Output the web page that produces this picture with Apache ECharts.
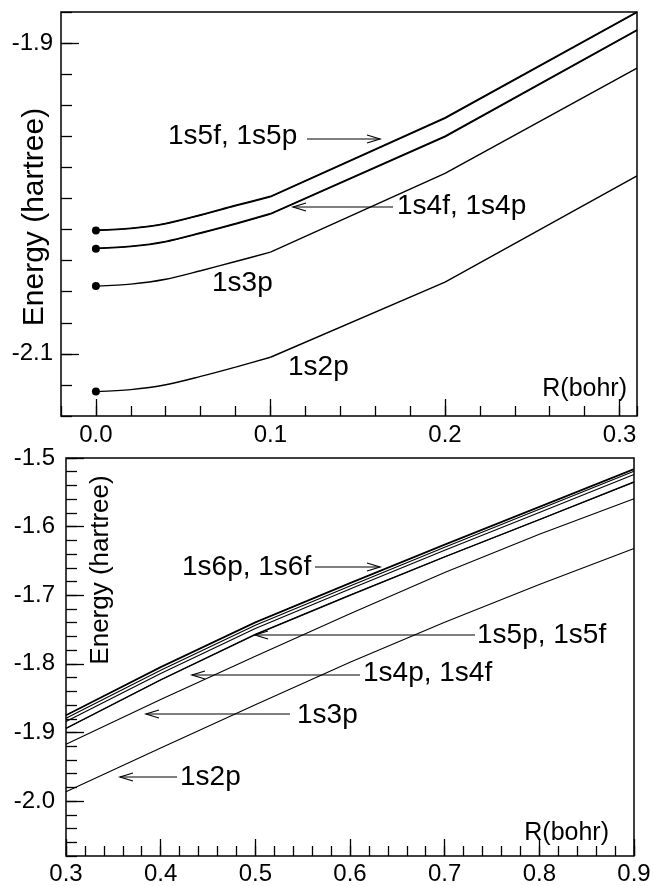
<!DOCTYPE html>
<html>
<head>
<meta charset="utf-8">
<script src="https://cdn.jsdelivr.net/npm/echarts@6/dist/echarts.min.js"></script>
<style>
  html, body { margin: 0; padding: 0; background: #fff; }
  #chart { width: 654px; height: 886px; }
</style>
</head>
<body>
<div id="chart"></div>
<script>
// ---- Upper panel: R from 0 to ~0.3 bohr (energies in hartree) ----
const rUpper = [0, 0.02, 0.04, 0.06, 0.08, 0.1, 0.2, 0.31];
const upper1s5p = [-2.0206, -2.0194, -2.0163, -2.0108, -2.0048, -1.9990, -1.9484, -1.8803];
const upper1s5f = [-2.0203, -2.0191, -2.0160, -2.0105, -2.0044, -1.9986, -1.9480, -1.8799];
const upper1s4p = [-2.0323, -2.0310, -2.0279, -2.0224, -2.0165, -2.0101, -1.9603, -1.8919];
const upper1s4f = [-2.0320, -2.0307, -2.0276, -2.0221, -2.0161, -2.0097, -1.9599, -1.8915];
const upper1s3p = [-2.0564, -2.0551, -2.0520, -2.0465, -2.0406, -2.0345, -1.9839, -1.9161];
const upper1s2p = [-2.1243, -2.1230, -2.1199, -2.1145, -2.1085, -2.1022, -2.0538, -1.9854];
// index of R = 0.1, where the curved inner part joins the straight outer part
const upperJoin = 5;

// ---- Lower panel: R from 0.3 to 0.9 bohr ----
const rLower = [0.3, 0.4, 0.5, 0.6, 0.7, 0.8, 0.9];
const lower1s6p = [-1.8745, -1.8045, -1.7390, -1.6820, -1.6260, -1.5710, -1.5159];
const lower1s6f = [-1.8752, -1.8052, -1.7398, -1.6828, -1.6268, -1.5718, -1.5166];
const lower1s5p = [-1.8793, -1.8092, -1.7436, -1.6864, -1.6301, -1.5748, -1.5194];
const lower1s5f = [-1.8841, -1.8139, -1.7483, -1.6910, -1.6346, -1.5794, -1.5242];
const lower1s4p = [-1.8938, -1.8230, -1.7570, -1.6998, -1.6440, -1.5895, -1.5348];
const lower1s4f = [-1.8942, -1.8234, -1.7574, -1.7002, -1.6444, -1.5899, -1.5352];
const lower1s3p = [-1.9170, -1.8520, -1.7890, -1.7270, -1.6670, -1.6110, -1.5594];
const lower1s2p = [-1.9865, -1.9225, -1.8595, -1.7975, -1.7395, -1.6845, -1.6319];

// ---- Tick labels ----
const upperXTicks = [0, 0.1, 0.2, 0.3];
const upperYTicks = [-2.1, -1.9];
const lowerXTicks = [0.3, 0.4, 0.5, 0.6, 0.7, 0.8, 0.9];
const lowerYTicks = [-2.0, -1.9, -1.8, -1.7, -1.6, -1.5];

const FONT = 'Liberation Sans';
const INK = '#000';

function pairs(xs, ys) { return xs.map((x, i) => [x, ys[i]]); }

function line(name, data, axisIdx, opts) {
  return Object.assign({
    name: name,
    type: 'line',
    xAxisIndex: axisIdx,
    yAxisIndex: axisIdx,
    data: data,
    smooth: false,
    showSymbol: false,
    symbol: 'none',
    itemStyle: { color: INK },
    lineStyle: { color: INK, width: 1.4 },
    silent: true,
    z: 3
  }, opts || {});
}

// upper curves: smooth inner part (R <= 0.1) with a dot at R = 0, straight beyond
function upperCurve(name, ys, withDot, width) {
  const all = pairs(rUpper, ys);
  const inner = line(name, all.slice(0, upperJoin + 1), 0, {
    smooth: 0.3,
    lineStyle: { color: INK, width: width }
  });
  if (withDot) {
    inner.showSymbol = true;
    inner.showAllSymbol = true;
    inner.symbol = 'circle';
    inner.symbolSize = (v, p) => (p.dataIndex === 0 ? 8 : 0);
  }
  const outer = line(name, all.slice(upperJoin), 0, { lineStyle: { color: INK, width: width } });
  return [inner, outer];
}

function lowerCurve(name, ys, width) {
  return line(name, pairs(rLower, ys), 2, { lineStyle: { color: INK, width: width } });
}

function minorAxis(grid, min, max, step, len) {
  return {
    type: 'value', gridIndex: grid, min: min, max: max, interval: step,
    axisLine: { show: false, onZero: false }, splitLine: { show: false },
    axisTick: { show: true, inside: true, length: len, lineStyle: { color: INK, width: 1.3 } },
    axisLabel: { show: false }
  };
}

function majorAxis(grid, min, max, ticks, len, margin) {
  return {
    type: 'value', gridIndex: grid, min: min, max: max,
    axisLine: { show: false, onZero: false }, splitLine: { show: false },
    axisTick: { show: true, inside: true, length: len, customValues: ticks,
                lineStyle: { color: INK, width: 1.3 } },
    axisLabel: { show: true, customValues: ticks, margin: margin,
                 formatter: v => Number(v).toFixed(1),
                 color: INK, fontFamily: FONT, fontSize: 24 }
  };
}

function label(text, x, y, size, align) {
  return {
    type: 'text', x: x, y: y, silent: true, z: 10,
    style: { text: text, fill: INK, font: size + 'px "' + FONT + '"',
             textAlign: align || 'left', textVerticalAlign: 'middle' }
  };
}

function vlabel(text, x, y, size) {
  return {
    type: 'text', x: x, y: y, rotation: Math.PI / 2, silent: true, z: 10,
    style: { text: text, fill: INK, font: size + 'px "' + FONT + '"',
             textAlign: 'center', textVerticalAlign: 'middle' }
  };
}

function arrow(x0, x1, y) {
  const dir = x1 > x0 ? 1 : -1;
  return {
    type: 'group', silent: true, z: 10,
    children: [
      { type: 'line', shape: { x1: x0, y1: y, x2: x1, y2: y },
        style: { stroke: INK, lineWidth: 1.2 } },
      { type: 'polyline',
        shape: { points: [[x1 - dir * 13, y - 4], [x1, y], [x1 - dir * 13, y + 4]] },
        style: { stroke: INK, lineWidth: 1.2, fill: null } }
    ]
  };
}

const chart = echarts.init(document.getElementById('chart'), null, { renderer: 'canvas' });

chart.setOption({
  animation: false,
  backgroundColor: '#fff',
  grid: [
    { left: 61, top: 12, width: 576, height: 404, show: true,
      borderColor: INK, borderWidth: 1.5, backgroundColor: 'transparent' },
    { left: 66, top: 458, width: 568, height: 399, show: true,
      borderColor: INK, borderWidth: 1.5, backgroundColor: 'transparent' }
  ],
  xAxis: [
    Object.assign(minorAxis(0, -0.02, 0.31, 0.02, 10), { position: 'bottom' }),
    Object.assign(majorAxis(0, -0.02, 0.31, upperXTicks, 17, 7), { position: 'bottom' }),
    Object.assign(minorAxis(1, 0.3, 0.9, 0.02, 10), { position: 'bottom' }),
    Object.assign(majorAxis(1, 0.3, 0.9, lowerXTicks, 17, 6), { position: 'bottom' })
  ],
  yAxis: [
    Object.assign(minorAxis(0, -2.14, -1.88, 0.02, 11), { position: 'left' }),
    Object.assign(majorAxis(0, -2.14, -1.88, upperYTicks, 18, 8), { position: 'left' }),
    Object.assign(minorAxis(1, -2.08, -1.5, 0.02, 11), { position: 'left' }),
    Object.assign(majorAxis(1, -2.08, -1.5, lowerYTicks, 18, 11), { position: 'left' })
  ],
  series: [].concat(
    upperCurve('1s5p', upper1s5p, true, 1.4),
    upperCurve('1s5f', upper1s5f, false, 1.4),
    upperCurve('1s4p', upper1s4p, true, 1.4),
    upperCurve('1s4f', upper1s4f, false, 1.4),
    upperCurve('1s3p', upper1s3p, true, 1.4),
    upperCurve('1s2p', upper1s2p, true, 1.4),
    [
      lowerCurve('1s6p', lower1s6p, 1.3),
      lowerCurve('1s6f', lower1s6f, 1.3),
      lowerCurve('1s5p', lower1s5p, 1.1),
      lowerCurve('1s5f', lower1s5f, 1.1),
      lowerCurve('1s4p', lower1s4p, 1.1),
      lowerCurve('1s4f', lower1s4f, 1.1),
      lowerCurve('1s3p', lower1s3p, 1.1),
      lowerCurve('1s2p', lower1s2p, 1.1)
    ]
  ),
  graphic: [
    // axis titles
    vlabel('Energy (hartree)', 35, 217, 30),
    label('R(bohr)', 627, 389, 25, 'right'),
    vlabel('Energy (hartree)', 101, 570, 26),
    label('R(bohr)', 609, 833, 25, 'right'),
    // upper panel state labels
    label('1s5f, 1s5p', 168, 136, 28),
    arrow(307, 380, 139),
    label('1s4f, 1s4p', 397, 206, 28),
    arrow(393, 293, 207),
    label('1s3p', 212, 283, 28),
    label('1s2p', 288, 367, 28),
    // lower panel state labels
    label('1s6p, 1s6f', 182, 567, 28),
    arrow(315, 380, 567),
    label('1s5p, 1s5f', 477, 635, 28),
    arrow(475, 255, 635),
    label('1s4p, 1s4f', 363, 673, 28),
    arrow(360, 192, 675),
    label('1s3p', 297, 715, 28),
    arrow(290, 146, 714),
    label('1s2p', 180, 777, 28),
    arrow(177, 120, 777)
  ]
});
</script>
</body>
</html>
